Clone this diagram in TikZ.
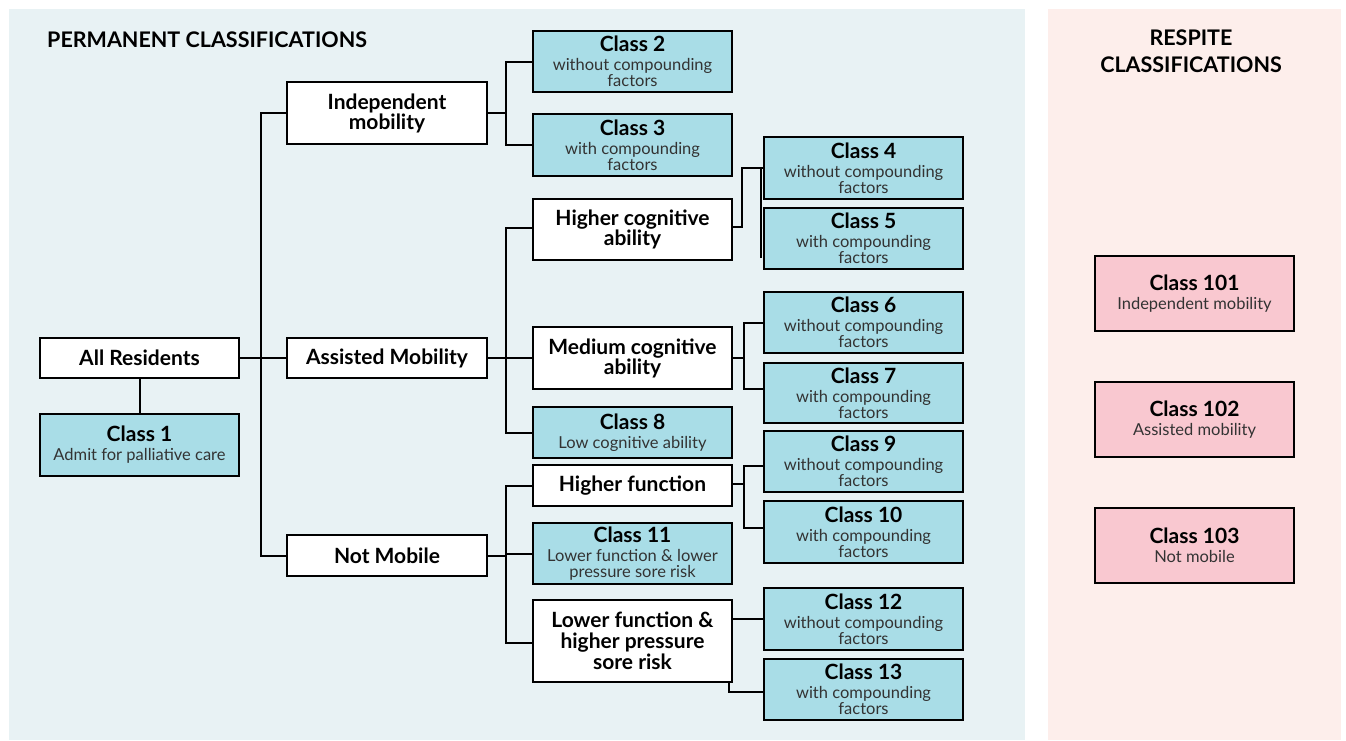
\documentclass[tikz,border=0pt]{standalone}
\usepackage{fontspec}
\setmainfont{Lato}
\definecolor{panelblue}{HTML}{E8F2F4}
\definecolor{panelpink}{HTML}{FDEEEB}
\definecolor{clsblue}{HTML}{A9DDE7}
\definecolor{rsppink}{HTML}{F9C8D0}
\definecolor{subgray}{HTML}{333333}
\newcommand{\ctitle}[1]{{\color{black}\fontsize{21}{20}\selectfont\bfseries #1}}
\begin{document}
\begin{tikzpicture}[x=1pt,y=-1pt,
  box/.style={draw=black, line width=2.4pt, minimum width=199pt, align=center, inner sep=0pt},
  cat/.style={box, fill=white, text=black, font=\fontsize{21}{20}\selectfont\bfseries},
  cls/.style={box, fill=clsblue, text=subgray, font=\fontsize{16.5}{16}\selectfont},
  rsp/.style={box, fill=rsppink, text=subgray, font=\fontsize{16.5}{16}\selectfont, minimum height=75pt},
  heading/.style={text=black, font=\fontsize{21.5}{27}\selectfont\bfseries, inner sep=0pt},
  conn/.style={line width=2pt, draw=black}]
\useasboundingbox (0,0) rectangle (1346,740);
\fill[panelblue] (9,9) rectangle (1025,740);
\fill[panelpink] (1048,9) rectangle (1341,740);

\node[heading, anchor=west] (ptitle) at (47,40) {PERMANENT CLASSIFICATIONS};
\node[heading, align=center] (rtitle) at (1191,51.5) {RESPITE\\CLASSIFICATIONS};

% level 0
\node[cat, minimum height=40pt] (allres) at (139.5,358) {All Residents};
\node[cls, minimum height=62pt] (class1) at (139.5,445) {\ctitle{Class 1}\\[3pt]Admit for palliative care};
% level 1
\node[cat, minimum height=62pt, minimum width=200pt] (indep) at (387,113) {Independent\\mobility};
\node[cat, minimum height=40pt, minimum width=200pt] (assist) at (387,358) {Assisted Mobility};
\node[cat, minimum height=41pt, minimum width=200pt] (notmob) at (387,555.5) {Not Mobile};
% level 2
\node[cls, minimum height=61pt] (class2) at (632.5,61.5) {\ctitle{Class 2}\\[3pt]without compounding\\factors};
\node[cls, minimum height=62pt] (class3) at (632.5,145) {\ctitle{Class 3}\\[3pt]with compounding\\factors};
\node[cat, minimum height=61pt] (highcog) at (632.5,229.5) {Higher cognitive\\ability};
\node[cat, minimum height=62pt] (medcog) at (632.5,358) {Medium cognitive\\ability};
\node[cls, minimum height=51pt] (class8) at (632.5,432.5) {\ctitle{Class 8}\\[3pt]Low cognitive ability};
\node[cat, minimum height=41pt] (highfn) at (632.5,485.5) {Higher function};
\node[cls, minimum height=61pt] (class11) at (632.5,553.5) {\ctitle{Class 11}\\[3pt]Lower function \& lower\\pressure sore risk};
\node[cat, minimum height=82pt, font=\fontsize{21}{21}\selectfont\bfseries] (lowfn) at (632.5,641) {Lower function \&\\higher pressure\\sore risk};
% level 3
\node[cls, minimum height=62pt] (class4) at (863.5,168) {\ctitle{Class 4}\\[3pt]without compounding\\factors};
\node[cls, minimum height=61pt] (class5) at (863.5,238.5) {\ctitle{Class 5}\\[3pt]with compounding\\factors};
\node[cls, minimum height=61pt] (class6) at (863.5,322.5) {\ctitle{Class 6}\\[3pt]without compounding\\factors};
\node[cls, minimum height=60pt] (class7) at (863.5,393) {\ctitle{Class 7}\\[3pt]with compounding\\factors};
\node[cls, minimum height=61pt] (class9) at (863.5,461.5) {\ctitle{Class 9}\\[3pt]without compounding\\factors};
\node[cls, minimum height=62pt] (class10) at (863.5,532) {\ctitle{Class 10}\\[3pt]with compounding\\factors};
\node[cls, minimum height=62pt] (class12) at (863.5,619) {\ctitle{Class 12}\\[3pt]without compounding\\factors};
\node[cls, minimum height=61pt] (class13) at (863.5,689.5) {\ctitle{Class 13}\\[3pt]with compounding\\factors};
% respite
\node[rsp] (class101) at (1194.5,293.5) {\ctitle{Class 101}\\[3pt]Independent mobility};
\node[rsp] (class102) at (1194.5,419.5) {\ctitle{Class 102}\\[3pt]Assisted mobility};
\node[rsp] (class103) at (1194.5,545.5) {\ctitle{Class 103}\\[3pt]Not mobile};

% connectors
\draw[conn] (allres.south) -- (class1.north);
\draw[conn] (allres.east) -- (assist.west);
\draw[conn] (indep.west) -- ++(-25,0) |- (notmob.west);

\draw[conn] (indep.east) -- ++(18,0) coordinate (b1);
\draw[conn] (b1) |- (class2.west);
\draw[conn] (b1) |- (class3.west);

\draw[conn] (assist.east) -- ++(18,0) coordinate (b2);
\draw[conn] (b2) |- ([yshift=2pt]highcog.west);
\draw[conn] (b2) |- (medcog.west);
\draw[conn] (b2) |- (class8.west);

\draw[conn] ([yshift=3pt]highcog.east) -- ++(9,0) |- (class4.west);
\draw[conn] ([xshift=-2pt]class4.west) -- ([xshift=-2pt,yshift=-19.5pt]class5.west);

\draw[conn] (medcog.east) -- ++(11,0) coordinate (b3);
\draw[conn] (b3) |- (class6.west);
\draw[conn] (b3) |- ([yshift=4pt]class7.west);

\draw[conn] ([yshift=2pt]highfn.east) -- ++(11,0) coordinate (b4);
\draw[conn] (b4) |- ([yshift=-4.5pt]class9.west);
\draw[conn] (b4) |- ([yshift=4pt]class10.west);

\draw[conn] (notmob.east) -- ++(18,0) coordinate (b5);
\draw[conn] (b5) |- (highfn.west);
\draw[conn] (b5) |- (class11.west);
\draw[conn] (b5) |- ([yshift=-2pt]lowfn.west);

\draw[conn] (lowfn.east |- class12.west) -- (class12.west);
\draw[conn] ([xshift=-4pt]lowfn.south east) |- ([yshift=-2.5pt]class13.west);
\end{tikzpicture}
\end{document}
